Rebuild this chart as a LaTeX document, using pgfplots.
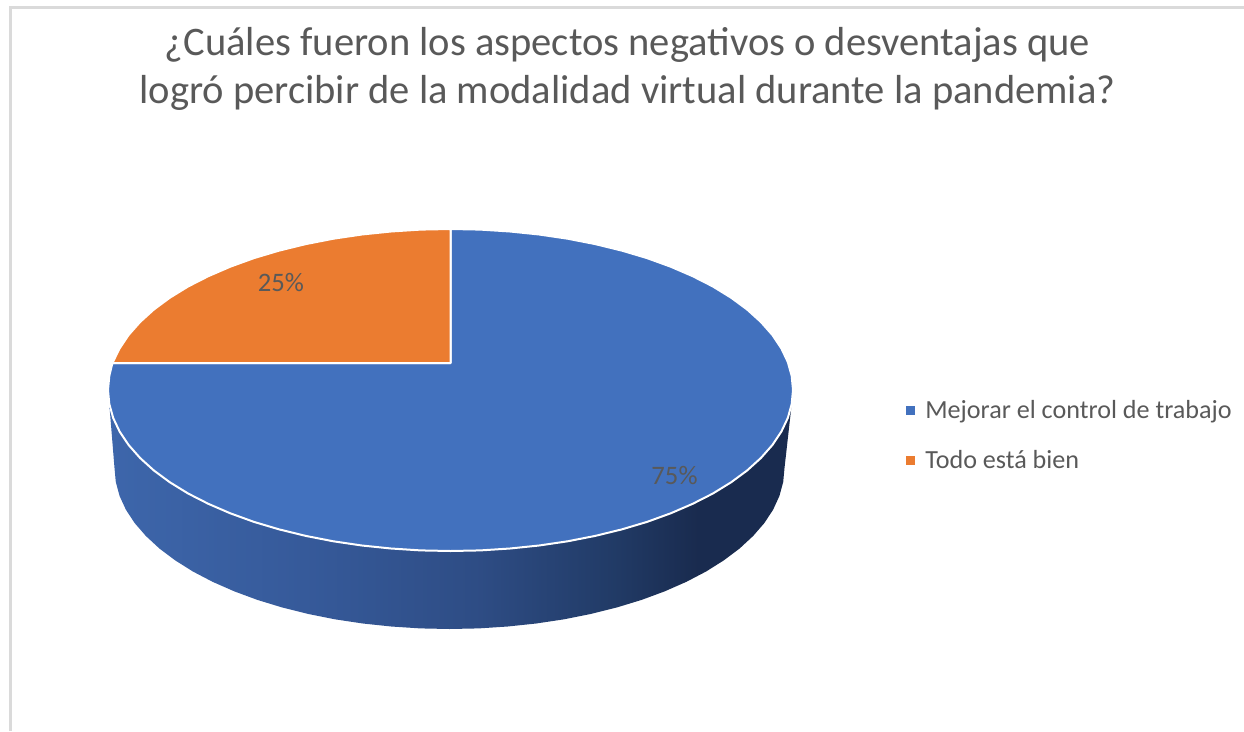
\documentclass[border=0pt]{standalone}
\usepackage{pgfplots}
\pgfplotsset{compat=1.18}
\usepackage{fontspec}
\setmainfont{Carlito}
\definecolor{tx}{HTML}{595959}
\definecolor{blu}{HTML}{4271BE}
\definecolor{org}{HTML}{EB7C30}
\definecolor{frm}{HTML}{DADADA}
\pgfdeclarehorizontalshading{pieside2}{100bp}{
 rgb(0bp)=(0.24,0.40,0.67);
 rgb(25bp)=(0.24,0.40,0.67);
 rgb(40bp)=(0.21,0.35,0.60);
 rgb(52bp)=(0.18,0.30,0.52);
 rgb(62bp)=(0.13,0.23,0.40);
 rgb(68bp)=(0.10,0.17,0.31);
 rgb(100bp)=(0.10,0.17,0.31)}
\begin{document}
\begin{tikzpicture}
\path[use as bounding box] (0,0) rectangle (933pt,548.25pt);
\begin{axis}[
  at={(0,0)},anchor=south west,
  width=933pt,height=548.25pt,scale only axis,hide axis,clip=false,
  xmin=0,xmax=1244,ymin=0,ymax=731,y dir=reverse,
  legend style={at={(axis cs:906,398)},anchor=north west,draw=none,fill=none,
    font=\fontsize{19.6pt}{23pt}\selectfont\color{tx},row sep=18.25pt,
    inner sep=0pt,outer sep=0pt},
  legend cell align=left,
  legend image code/.code={\fill[#1,draw=none] (0pt,-3.4pt) rectangle (6.75pt,3.4pt);\path[draw=none,fill=none] (0pt,0pt) -- (12.5pt,0pt);},
]
% side wall
\addplot[forget plot,draw=none,mark=none,shading=pieside2] coordinates {
(109.3,404)(113.2,418)(119.7,431.7)(128.7,445.1)(140.1,458)(153.9,470.5)(169.9,482.3)(188.1,493.5)(208.3,503.8)(230.3,513.3)(254,521.9)(279.2,529.4)(305.8,535.9)(333.4,541.3)(361.9,545.5)(391,548.5)(420.6,550.4)(450.5,551)
(480.4,550.4)(510,548.5)(539.1,545.5)(567.6,541.3)(595.2,535.9)(621.8,529.4)(647,521.9)(670.7,513.3)(692.7,503.8)(712.9,493.5)(731.1,482.3)(747.1,470.5)(760.9,458)(772.3,445.1)(781.3,431.7)(787.8,418)(791.7,404)
(784.5,468)(783.2,482)(779.4,496)(773.1,509.7)(764.3,523.1)(753.1,536)(739.6,548.5)(723.9,560.3)(706.1,571.5)(686.4,581.8)(664.8,591.3)(641.6,599.9)(617,607.4)(591.1,613.9)(564.1,619.3)(536.2,623.5)(507.7,626.5)(478.7,628.4)(449.5,629)
(420.3,628.4)(391.3,626.5)(362.8,623.5)(334.9,619.3)(307.9,613.9)(282,607.4)(257.4,599.9)(234.2,591.3)(212.6,581.8)(192.9,571.5)(175.1,560.3)(159.4,548.5)(145.9,536)(134.7,523.1)(125.9,509.7)(119.6,496)(115.8,482)(114.5,468)
} --cycle;
% 75 %
\addplot[fill=blu,draw=white,line width=1.5pt,line join=round,mark=none] coordinates {
(450.5,363)(450.5,229)(480.4,229.6)(510,231.5)(539.1,234.5)(567.6,238.7)(595.2,244.1)(621.8,250.6)(647,258.1)(670.7,266.7)(692.7,276.2)(712.9,286.5)(731.1,297.7)(747.1,309.5)(760.9,322)(772.3,334.9)(781.3,348.3)(787.8,362)(791.7,376)(793,390)
(791.7,404)(787.8,418)(781.3,431.7)(772.3,445.1)(760.9,458)(747.1,470.5)(731.1,482.3)(712.9,493.5)(692.7,503.8)(670.7,513.3)(647,521.9)(621.8,529.4)(595.2,535.9)(567.6,541.3)(539.1,545.5)(510,548.5)(480.4,550.4)(450.5,551)
(420.6,550.4)(391,548.5)(361.9,545.5)(333.4,541.3)(305.8,535.9)(279.2,529.4)(254,521.9)(230.3,513.3)(208.3,503.8)(188.1,493.5)(169.9,482.3)(153.9,470.5)(140.1,458)(128.7,445.1)(119.7,431.7)(113.2,418)(109.3,404)(108,390)(109.3,376)(112.4,363)
} --cycle;
\addlegendentry{Mejorar el control de trabajo}
% 25 %
\addplot[fill=org,draw=white,line width=1.5pt,line join=round,mark=none] coordinates {
(450.5,363)(112.4,363)(119.7,348.3)(128.7,334.9)(140.1,322)(153.9,309.5)(169.9,297.7)(188.1,286.5)(208.3,276.2)(230.3,266.7)(254,258.1)(279.2,250.6)(305.8,244.1)(333.4,238.7)(361.9,234.5)(391,231.5)(420.6,229.6)(450.5,229)
} --cycle;
\addlegendentry{Todo está bien}
% data labels
\addplot[forget plot,only marks,mark=none,point meta=explicit symbolic,
  nodes near coords,
  nodes near coords style={anchor=center,text=tx,font=\fontsize{20pt}{23pt}\selectfont,inner sep=0pt}]
  coordinates {(281,283)[25\%] (674.5,476)[75\%]};
% frame and title
\draw[frm,line width=1.9pt] (axis cs:10.5,731) -- (axis cs:10.5,7.5) -- (axis cs:1244,7.5);
\node[text=tx,align=center,font=\fontsize{30.4pt}{36.5pt}\selectfont,inner sep=0pt,anchor=center]
  at (axis cs:627.5,69) {¿Cuáles fueron los aspectos negativos o desventajas que\\logró percibir de la modalidad virtual durante la pandemia?};
\end{axis}
\end{tikzpicture}
\end{document}
